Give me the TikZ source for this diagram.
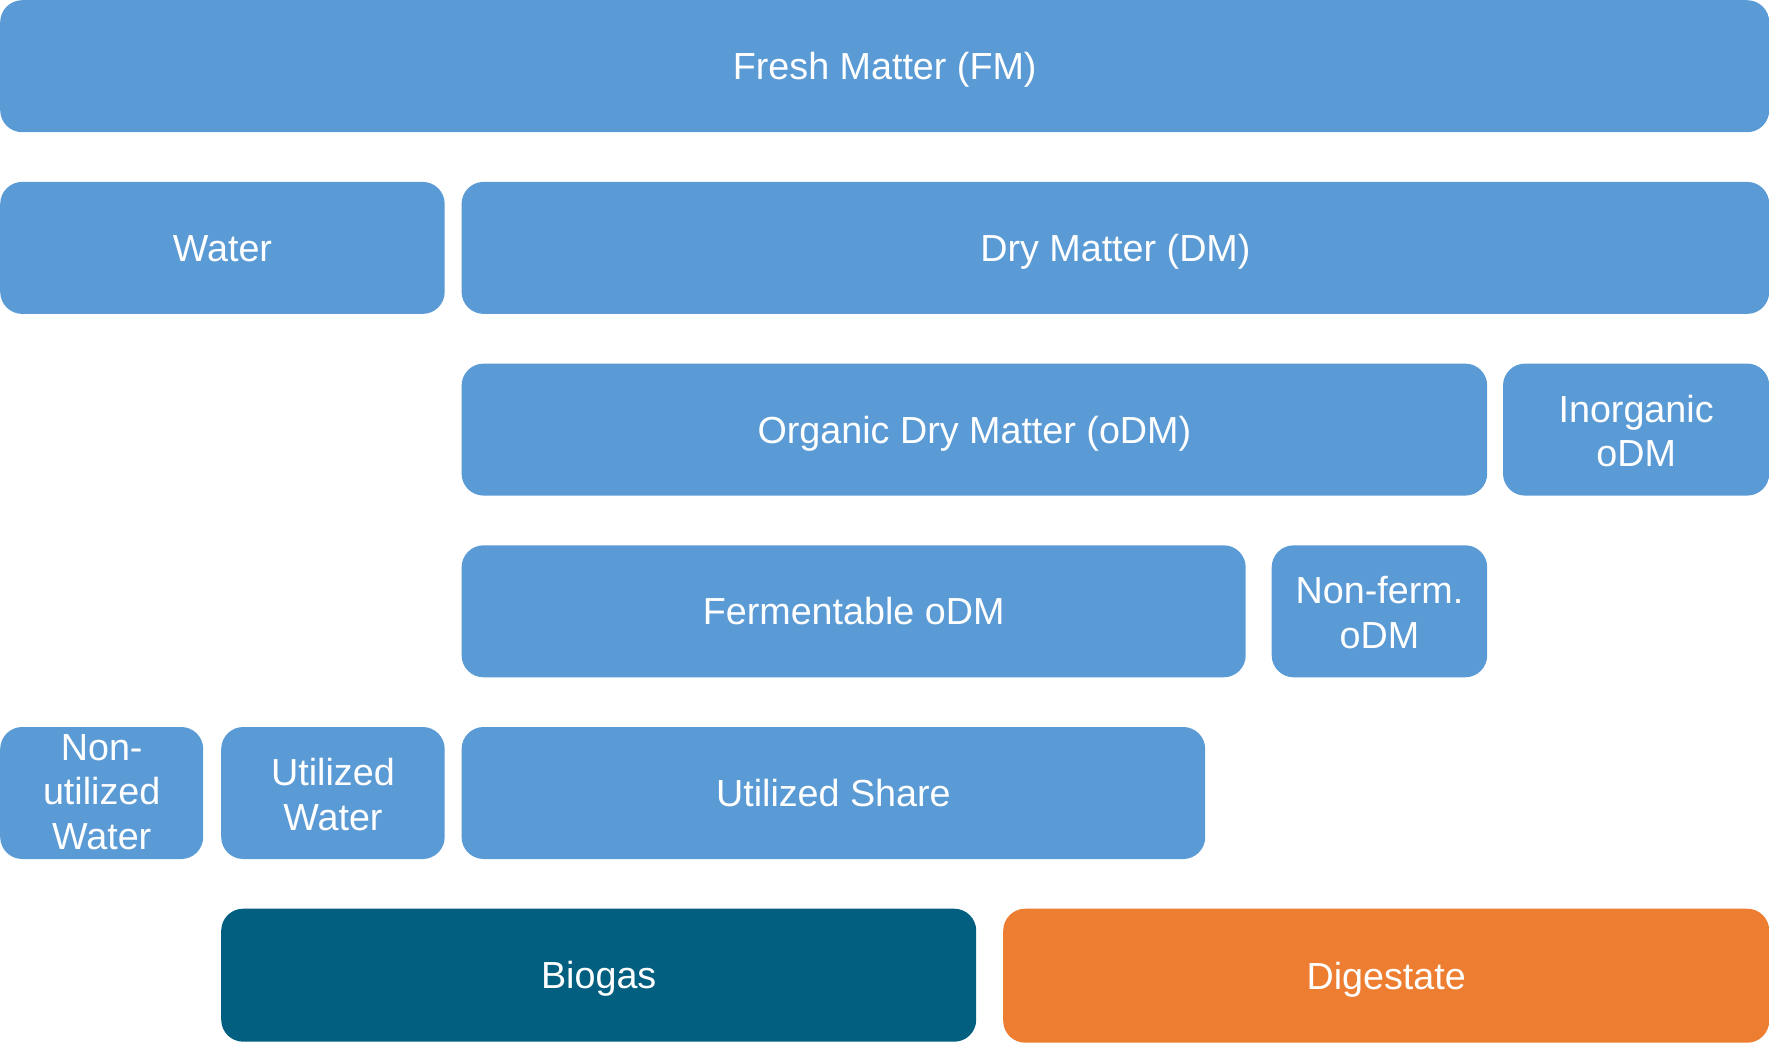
\documentclass[tikz,border=0pt]{standalone}
\usepackage{fontspec}
\setmainfont{Liberation Sans}
\definecolor{boxblue}{HTML}{5B9BD5}
\definecolor{biogas}{HTML}{025F80}
\definecolor{digest}{HTML}{ED7D31}
\newcommand{\topstrut}{\rule{0pt}{39pt}}
\tikzset{
  box/.style={fill=boxblue, draw=none, rounded corners=22pt, inner sep=0pt,
    anchor=north west, minimum height=132pt, text=white, align=center,
    font=\fontsize{37.7}{44.5}\selectfont,
    execute at begin node={\rule{0pt}{36.4pt}},
    execute at end node={\rule[-9.4pt]{0pt}{9.4pt}}},
}
\begin{document}
\begin{tikzpicture}[x=1pt,y=-1pt]
\useasboundingbox (0,0) rectangle (1769,1043);
\node[box, minimum width=1769pt] (fm) at (0,0) {Fresh Matter (FM)};
\node[box, minimum width=444.5pt] (water) at (0,181.7) {Water};
\node[box, minimum width=1307.6pt] (dm) at (461.4,181.7) {Dry Matter (DM)};
\node[box, minimum width=1025.6pt] (odm) at (461.4,363.4) {Organic Dry Matter (oDM)};
\node[box, minimum width=266.2pt] (inorg) at (1502.8,363.4) {\topstrut Inorganic\\oDM};
\node[box, minimum width=784.1pt] (ferm) at (461.4,545.1) {Fermentable oDM};
\node[box, minimum width=215.5pt] (nonferm) at (1271.5,545.1) {\topstrut Non-ferm.\\oDM};
\node[box, minimum width=203pt] (nuw) at (0,726.8) {\rule{0pt}{33pt}Non-\\utilized\\Water};
\node[box, minimum width=223.5pt] (uw) at (221,726.8) {\topstrut Utilized\\Water};
\node[box, minimum width=743.6pt] (us) at (461.4,726.8) {Utilized Share};
\node[box, fill=biogas, minimum width=755pt, minimum height=133pt] (bio) at (221,908.5) {Biogas};
\node[box, fill=digest, minimum width=766pt, minimum height=134pt] (dig) at (1003,908.5) {Digestate};
\end{tikzpicture}
\end{document}
